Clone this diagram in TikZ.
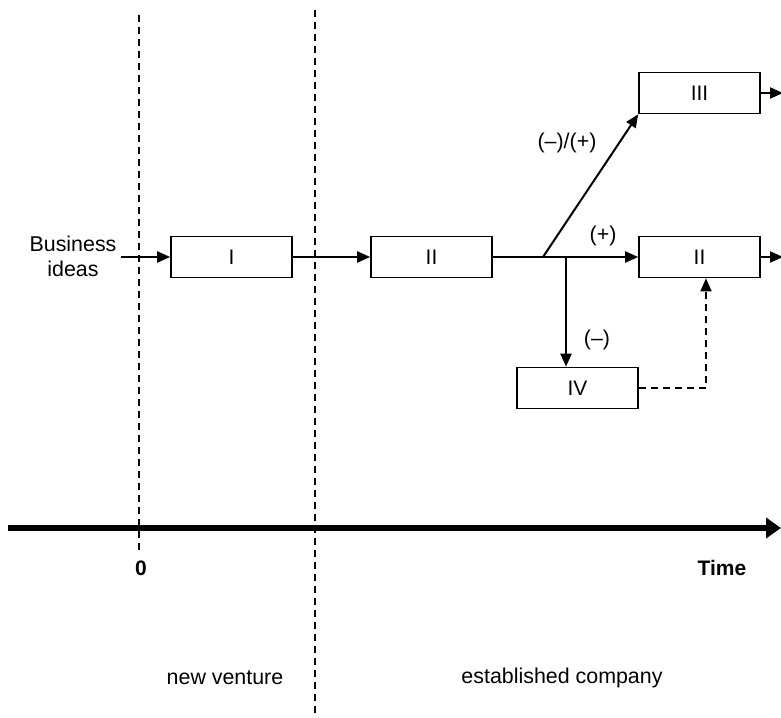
\documentclass[tikz,border=0pt]{standalone}
\usepackage{fontspec}
\setmainfont{Liberation Sans}
\usetikzlibrary{arrows.meta}
\begin{document}
\begin{tikzpicture}[x=1pt,y=-1pt,
  box/.style={draw,line width=1.6pt,minimum width=121pt,minimum height=41pt,inner sep=0pt,font=\fontsize{21}{24}\selectfont},
  lbl/.style={font=\fontsize{21.4}{25}\selectfont,inner sep=0pt},
  conn/.style={line width=2pt,-{Triangle[length=13pt,width=11pt]}},
  vdash/.style={line width=1.4pt,dash pattern=on 7pt off 5pt}]
\useasboundingbox (0,0) rectangle (781,717);
% dashed separators
\draw[vdash] (139,15) -- (139,552);
\draw[vdash] (315,10) -- (315,717);
% boxes
\node[box] (b1) at (231.5,257) {I};
\node[box] (b2) at (431.5,257) {II};
\node[box] (b3) at (699.5,93) {III};
\node[box] (b2r) at (699.5,257) {II};
\node[box] (b4) at (577.5,388) {IV};
% labels
\node[lbl,align=center] (biz) at (73,256) {Business\\ideas};
\node[lbl] (lmp) at (567,143) {(--)/(+)};
\node[lbl] (lp) at (603,236) {(+)};
\node[lbl] (lm) at (597,340) {(--)};
% coordinates
\coordinate (bizend) at (121,257);
\coordinate (br1) at (543,257);
\coordinate (br2) at (566,257);
\coordinate (dc) at (706,388);
\coordinate (o3) at (783,93);
\coordinate (o2) at (783,257);
% connectors
\draw[conn] (bizend) -- (b1.west);
\draw[conn] (b1.east) -- (b2.west);
\draw[conn] (b2.east) -- (b2r.west);
\draw[conn] (br1) -- (b3.south west);
\draw[conn] (br2) -- (b4.north -| br2);
\draw[conn,dash pattern=on 7pt off 5pt,line width=1.6pt] (b4.east) -- (dc) -- (dc |- b2r.south);
\draw[conn] (b3.east) -- (o3);
\draw[conn] (b2r.east) -- (o2);
% time axis
\coordinate (ax0) at (8,528);
\coordinate (ax1) at (781,528);
\draw[line width=6pt,-{Triangle[length=15pt,width=20pt]}] (ax0) -- (ax1);
\node[lbl,font=\fontsize{21}{24}\selectfont\bfseries] (zero) at (141,568) {0};
\node[lbl,font=\fontsize{21}{24}\selectfont\bfseries] (time) at (722,568) {Time};
\node[lbl] (nv) at (225,678) {new venture};
\node[lbl] (ec) at (562,678) {established company};
\end{tikzpicture}
\end{document}
